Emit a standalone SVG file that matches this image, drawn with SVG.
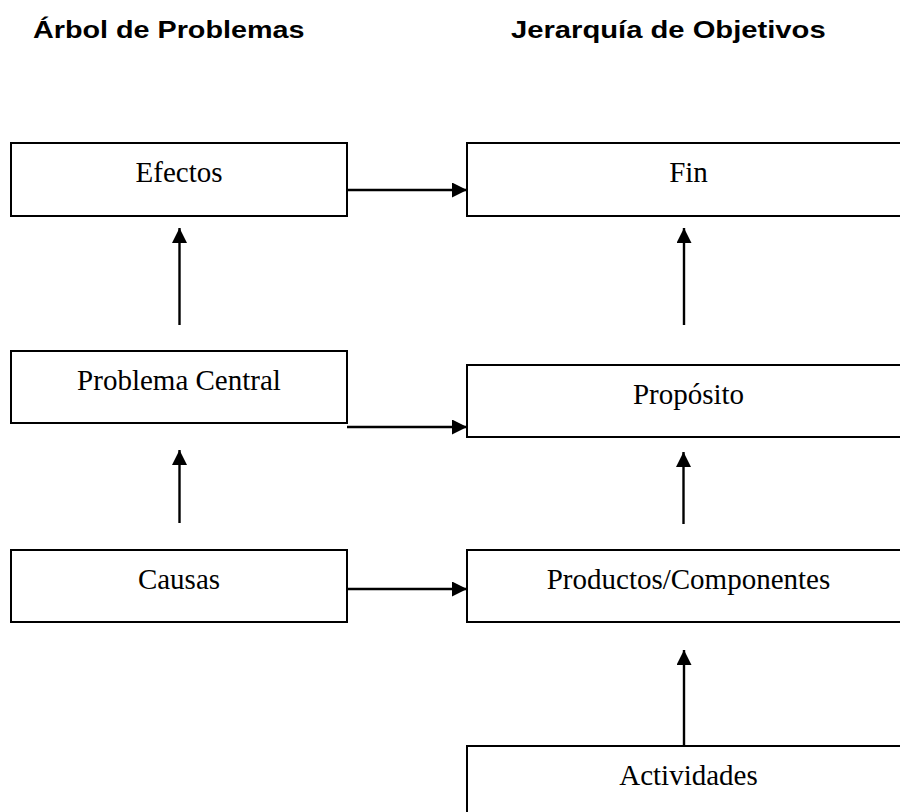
<svg xmlns="http://www.w3.org/2000/svg" width="900" height="812" viewBox="0 0 900 812">
<style>
.box{fill:#fff;stroke:#000;stroke-width:2}
.lbl{font-family:"Liberation Serif","Times New Roman",serif;font-size:29px;fill:#000;text-anchor:middle}
.ttl{font-family:"Liberation Sans",Arial,sans-serif;font-size:23px;font-weight:bold;fill:#000}
.conn{stroke:#000;stroke-width:2.4;fill:none;marker-end:url(#ah)}
</style>
<defs>
<marker id="ah" markerUnits="userSpaceOnUse" markerWidth="16" markerHeight="16" refX="15" refY="7.5" orient="auto">
<path d="M0,0 L15,7.5 L0,15 Z" fill="#000"/>
</marker>
</defs>
<rect width="900" height="812" fill="#fff"/>
<g id="titles">
<text class="ttl" transform="translate(33,38) scale(1.25,1)" x="0" y="0">Árbol de Problemas</text>
<text class="ttl" transform="translate(511,38) scale(1.27,1)" x="0" y="0">Jerarquía de Objetivos</text>
</g>
<g id="efectos"><rect class="box" x="11" y="143" width="336" height="73"/><text class="lbl" x="179" y="182">Efectos</text></g>
<g id="problema"><rect class="box" x="11" y="351" width="336" height="72"/><text class="lbl" x="179" y="390">Problema Central</text></g>
<g id="causas"><rect class="box" x="11" y="550" width="336" height="72"/><text class="lbl" x="179" y="589">Causas</text></g>
<g id="fin"><rect class="box" x="467" y="143" width="443" height="73"/><text class="lbl" x="688.5" y="182">Fin</text></g>
<g id="proposito"><rect class="box" x="467" y="365" width="443" height="72"/><text class="lbl" x="688.5" y="404">Propósito</text></g>
<g id="productos"><rect class="box" x="467" y="550" width="443" height="72"/><text class="lbl" x="688.5" y="589">Productos/Componentes</text></g>
<g id="actividades"><rect class="box" x="467" y="746" width="443" height="100"/><text class="lbl" x="688.5" y="785">Actividades</text></g>
<g id="connectors">
<line class="conn" x1="347" y1="190" x2="467" y2="190"/>
<line class="conn" x1="347" y1="427" x2="467" y2="427"/>
<line class="conn" x1="347" y1="589" x2="467" y2="589"/>
<line class="conn" x1="179.5" y1="325" x2="179.5" y2="228"/>
<line class="conn" x1="179.5" y1="523" x2="179.5" y2="450"/>
<line class="conn" x1="684" y1="325" x2="684" y2="228"/>
<line class="conn" x1="683.5" y1="524" x2="683.5" y2="452"/>
<line class="conn" x1="684" y1="746" x2="684" y2="650"/>
</g>
</svg>
